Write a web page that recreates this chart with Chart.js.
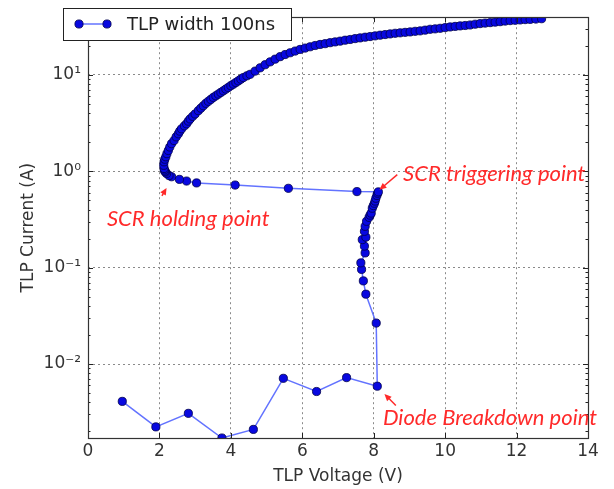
<!DOCTYPE html>
<html>
<head>
<meta charset="utf-8">
<script src="https://cdn.jsdelivr.net/npm/chart.js@4.4.0/dist/chart.umd.min.js"></script>
<style>
  body { margin: 0; background: #fff; }
  #wrap { width: 614px; height: 489px; position: relative; }
</style>
</head>
<body>
<div id="wrap"><canvas id="myChart"></canvas></div>
<script>
// TLP curve, in measurement order (diode leakage -> breakdown -> trigger -> snapback -> on-state)
var voltage = [
  0.96, 1.90, 2.81, 3.75, 4.63, 5.47, 6.40, 7.24, 8.10,
  8.07, 7.78, 7.71, 7.66, 7.64, 7.76, 7.74, 7.68, 7.78, 7.74, 7.76, 7.80, 7.87, 7.90, 7.93, 7.96, 7.99, 8.02, 8.04, 8.06, 8.09, 8.11, 8.13,
  7.53, 5.61, 4.12, 3.04, 2.76, 2.56, 2.34, 2.27, 2.20, 2.17, 2.15, 2.14, 2.13, 2.12, 2.13, 2.15, 2.18, 2.21, 2.25, 2.29,
  2.34, 2.41, 2.47, 2.53, 2.57, 2.62, 2.70, 2.76, 2.81, 2.86, 2.93, 3.00, 3.09, 3.16, 3.23, 3.30, 3.37, 3.44,
  3.51, 3.58, 3.65, 3.72, 3.79, 3.86, 3.93, 4.00, 4.07, 4.14, 4.21, 4.28, 4.35, 4.45, 4.54, 4.68, 4.82, 4.96,
  5.10, 5.24, 5.38, 5.52, 5.66, 5.80, 5.94, 6.08, 6.22, 6.36, 6.50, 6.64, 6.78, 6.92, 7.06, 7.20, 7.34, 7.48,
  7.62, 7.76, 7.90, 8.04, 8.18, 8.32, 8.46, 8.60, 8.74, 8.88, 9.02, 9.16, 9.30, 9.44, 9.58, 9.72, 9.86, 10.00,
  10.14, 10.28, 10.42, 10.56, 10.70, 10.84, 10.98, 11.12, 11.26, 11.40, 11.54, 11.68, 11.82, 11.96, 12.10, 12.24,
  12.38, 12.54, 12.70
];
var current = [
  0.0041, 0.00223, 0.00308, 0.00171, 0.0021, 0.00711, 0.00519, 0.00723, 0.00589,
  0.0266, 0.053, 0.0728, 0.0958, 0.112, 0.142, 0.167, 0.195, 0.207, 0.238, 0.268, 0.302, 0.332, 0.35, 0.367, 0.413, 0.44, 0.465, 0.49, 0.524, 0.56, 0.59, 0.61,
  0.614, 0.664, 0.718, 0.755, 0.79, 0.822, 0.875, 0.90, 0.947, 0.98, 1.0, 1.03, 1.066, 1.15, 1.25, 1.33, 1.41, 1.52, 1.64, 1.78,
  1.93, 2.08, 2.27, 2.44, 2.60, 2.75, 2.95, 3.10, 3.30, 3.48, 3.70, 3.92, 4.24, 4.50, 4.77, 5.05, 5.30, 5.55,
  5.82, 6.05, 6.29, 6.55, 6.81, 7.10, 7.38, 7.70, 7.98, 8.30, 8.63, 9.00, 9.35, 9.75, 10.1, 10.9, 11.8, 12.7,
  13.6, 14.5, 15.4, 16.2, 16.9, 17.6, 18.3, 18.9, 19.5, 20.1, 20.6, 21.0, 21.5, 21.9, 22.3, 22.8, 23.2, 23.7,
  24.1, 24.5, 24.9, 25.3, 25.7, 26.1, 26.5, 26.9, 27.2, 27.5, 27.8, 28.2, 28.5, 29.0, 29.6, 29.9, 30.3, 30.8,
  31.3, 31.7, 32.1, 32.4, 32.8, 33.4, 33.9, 34.3, 34.7, 35.1, 35.5, 36.0, 36.4, 36.7, 37.0, 37.3,
  37.5, 37.8, 38.1
];
var serieLabel = "TLP width 100ns";

var xTicks = [0, 2, 4, 6, 8, 10, 12, 14];
var yTicks = [0.01, 0.1, 1, 10];
var yTickLabels = ["10\u207B\u00B2", "10\u207B\u00B9", "10\u2070", "10\u00B9"];
var xMin = 0, xMax = 14;
var yMin = 0.00171, yMax = 39.5;

// red notes: text anchor and arrow (tail -> tip), in data units
var notas = ["SCR holding point", "SCR triggering point", "Diode Breakdown point"];
var notaV = [0.53, 8.82, 8.26];
var notaI = [0.318, 0.947, 0.00279];
var setaDeV = [2.07, 8.66, 8.62];
var setaDeI = [0.555, 0.92, 0.00372];
var setaAteV = [2.20, 8.16, 8.30];
var setaAteI = [0.67, 0.64, 0.0049];

var pontos = [];
for (var i = 0; i < voltage.length; i++) {
  pontos.push({ x: voltage[i], y: current[i] });
}

var lineColor = "rgba(60,80,255,0.8)";
var markerFill = "#0808e0";
var markerEdge = "#00004a";
var markerRadius = 4.1;

function desenhaMarcador(ctx, x, y) {
  ctx.beginPath();
  ctx.arc(x, y, markerRadius, 0, Math.PI * 2);
  ctx.fillStyle = markerFill;
  ctx.fill();
  ctx.lineWidth = 0.8;
  ctx.strokeStyle = markerEdge;
  ctx.stroke();
}

var extras = {
  id: "extras",
  afterDatasetsDraw: function (chart) {
    var ctx = chart.ctx;
    var a = chart.chartArea;
    var xs = chart.scales.x;
    var ys = chart.scales.y;
    ctx.save();

    // inward ticks like matplotlib
    ctx.strokeStyle = "#222";
    ctx.lineWidth = 1;
    ctx.beginPath();
    xTicks.forEach(function (v) {
      var px = Math.round(xs.getPixelForValue(v)) + 0.5;
      ctx.moveTo(px, a.bottom); ctx.lineTo(px, a.bottom - 5);
      ctx.moveTo(px, a.top); ctx.lineTo(px, a.top + 5);
    });
    yTicks.forEach(function (v) {
      var py = Math.round(ys.getPixelForValue(v)) + 0.5;
      ctx.moveTo(a.left, py); ctx.lineTo(a.left + 5, py);
      ctx.moveTo(a.right, py); ctx.lineTo(a.right - 5, py);
    });
    for (var k = -3; k <= 1; k++) {
      for (var m = 2; m <= 9; m++) {
        var v = m * Math.pow(10, k);
        if (v < yMin || v > yMax) continue;
        var py = Math.round(ys.getPixelForValue(v)) + 0.5;
        ctx.moveTo(a.left, py); ctx.lineTo(a.left + 2.5, py);
        ctx.moveTo(a.right, py); ctx.lineTo(a.right - 2.5, py);
      }
    }
    ctx.stroke();

    // frame
    ctx.strokeStyle = "#333";
    ctx.lineWidth = 1.2;
    ctx.strokeRect(Math.round(a.left) + 0.5, Math.round(a.top) + 0.5,
      Math.round(a.right - a.left), Math.round(a.bottom - a.top));

    // notes and arrows
    ctx.fillStyle = "#ff2a2a";
    ctx.strokeStyle = "#ff2a2a";
    ctx.font = "italic 22px Lato";
    ctx.textBaseline = "middle";
    ctx.textAlign = "left";
    for (var n = 0; n < notas.length; n++) {
      ctx.fillText(notas[n], xs.getPixelForValue(notaV[n]), ys.getPixelForValue(notaI[n]));
      var x0 = xs.getPixelForValue(setaDeV[n]), y0 = ys.getPixelForValue(setaDeI[n]);
      var x1 = xs.getPixelForValue(setaAteV[n]), y1 = ys.getPixelForValue(setaAteI[n]);
      var ang = Math.atan2(y1 - y0, x1 - x0);
      ctx.lineWidth = 1.5;
      ctx.beginPath();
      ctx.moveTo(x0, y0);
      ctx.lineTo(x1 - 4 * Math.cos(ang), y1 - 4 * Math.sin(ang));
      ctx.stroke();
      ctx.beginPath();
      ctx.moveTo(x1, y1);
      ctx.lineTo(x1 - 7 * Math.cos(ang) + 3.2 * Math.sin(ang), y1 - 7 * Math.sin(ang) - 3.2 * Math.cos(ang));
      ctx.lineTo(x1 - 7 * Math.cos(ang) - 3.2 * Math.sin(ang), y1 - 7 * Math.sin(ang) + 3.2 * Math.cos(ang));
      ctx.closePath();
      ctx.fill();
    }
    ctx.restore();
  },
  afterDraw: function (chart) {
    // legend box, top left, overlapping the frame
    var ctx = chart.ctx;
    ctx.save();
    ctx.fillStyle = "#fff";
    ctx.fillRect(63, 8, 228, 32);
    ctx.strokeStyle = "#222";
    ctx.lineWidth = 1;
    ctx.strokeRect(63.5, 8.5, 228, 32);
    ctx.strokeStyle = lineColor;
    ctx.lineWidth = 1.5;
    ctx.beginPath();
    ctx.moveTo(79, 24);
    ctx.lineTo(107, 24);
    ctx.stroke();
    desenhaMarcador(ctx, 79, 24);
    desenhaMarcador(ctx, 107, 24);
    ctx.fillStyle = "#222";
    ctx.font = "18px 'DejaVu Sans'";
    ctx.textBaseline = "middle";
    ctx.fillText(chart.data.datasets[0].label, 127, 25);
    ctx.restore();
  }
};

var ctx = document.getElementById("myChart");
var data = {
  datasets: [
    {
      label: serieLabel,
      data: pontos,
      showLine: true,
      borderColor: lineColor,
      borderWidth: 1.5,
      pointRadius: markerRadius,
      pointBackgroundColor: markerFill,
      pointBorderColor: markerEdge,
      pointBorderWidth: 0.8,
      pointHoverRadius: markerRadius,
    },
  ],
};
var config = {
  type: "scatter",
  data,
  options: {
    responsive: true,
    maintainAspectRatio: false,
    animation: false,
    layout: { padding: { top: 13, right: 26, left: 0, bottom: 0 } },
    plugins: { legend: { display: false }, tooltip: { enabled: false } },
    scales: {
      x: {
        type: "linear",
        min: xMin,
        max: xMax,
        afterBuildTicks: function (scale) {
          scale.ticks = xTicks.map(function (v) { return { value: v }; });
        },
        afterFit: function (scale) { scale.height = 51; },
        ticks: {
          padding: 3,
          color: "#333",
          font: { family: "DejaVu Sans", size: 17 },
          callback: function (v) { return String(v); },
        },
        grid: { color: "#8a8a8a", lineWidth: 1, drawTicks: false },
        border: { display: false, dash: [2, 3] },
        title: {
          display: true,
          text: "TLP Voltage (V)",
          color: "#333",
          font: { family: "DejaVu Sans", size: 17 },
          padding: { top: 0, bottom: 2 },
        },
      },
      y: {
        type: "logarithmic",
        min: yMin,
        max: yMax,
        afterBuildTicks: function (scale) {
          scale.ticks = yTicks.map(function (v) { return { value: v }; });
        },
        afterFit: function (scale) { scale.width = 88; },
        ticks: {
          padding: 7,
          color: "#333",
          font: { family: "DejaVu Sans", size: 17 },
          callback: function (v) {
            var idx = yTicks.indexOf(v);
            return idx >= 0 ? yTickLabels[idx] : "";
          },
        },
        grid: { color: "#8a8a8a", lineWidth: 1, drawTicks: false },
        border: { display: false, dash: [2, 3] },
        title: {
          display: true,
          text: "TLP Current (A)",
          color: "#333",
          font: { family: "DejaVu Sans", size: 17 },
          padding: { top: 18, bottom: 0 },
        },
      },
    },
  },
  plugins: [extras],
};

var myChart = new Chart(ctx, config);
</script>
</body>
</html>
